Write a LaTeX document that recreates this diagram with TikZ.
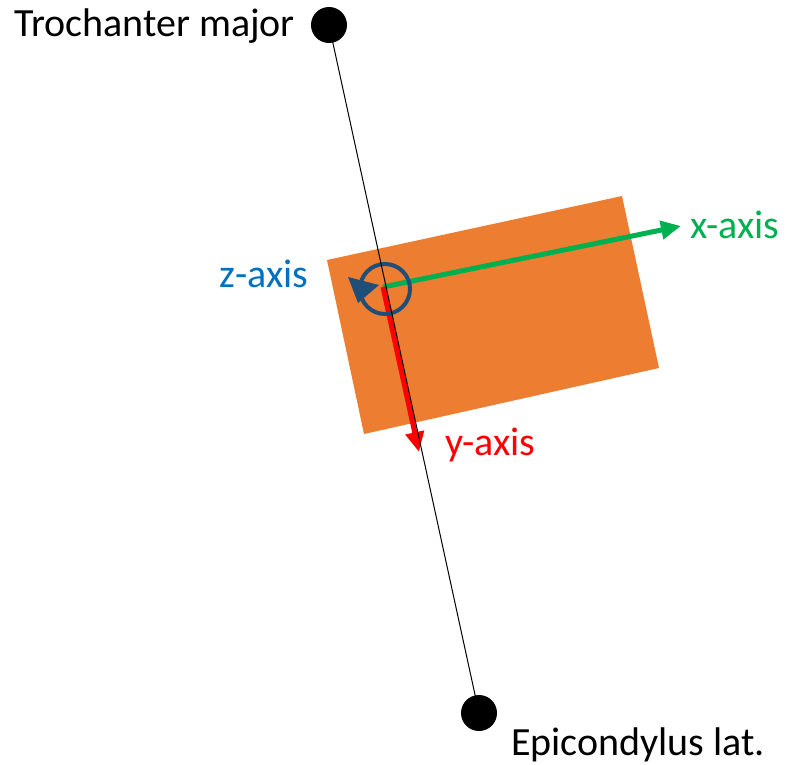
\documentclass[tikz,border=0pt]{standalone}
\usepackage{fontspec}
\setmainfont{Carlito}
\usetikzlibrary{arrows.meta}
\definecolor{orng}{HTML}{ED7D31}
\definecolor{grn}{HTML}{00B050}
\definecolor{dblue}{HTML}{1F4E79}
\definecolor{lblue}{HTML}{0070C0}
\begin{document}
\begin{tikzpicture}[x=1pt,y=-1pt,
  lbl/.style={anchor=base west,inner sep=0pt,font=\fontsize{40}{48}\selectfont},
  dot/.style={circle,fill=black,minimum size=36pt,inner sep=0pt},
  axisarrow/.style={line width=5pt,-{Triangle[length=20pt,width=18pt]}}]
\useasboundingbox (0,0) rectangle (787,765);
% orange plate
\fill[orng] (327,260) -- (622,196) -- (659,368) -- (364,434) -- cycle;
% origin
\coordinate (o) at (383,287);
\coordinate (xt) at (681,226);
\coordinate (yt) at (419,452);
\draw[grn,axisarrow] (o) -- (xt);
\draw[red,axisarrow] (o) -- (yt);
% z rotation
\draw[dblue,line width=4pt] (385,289) circle (25pt);
\fill[dblue] (348,277) -- (379,285) -- (358,303) -- cycle;
% bone axis
\node[dot] (tm) at (329,25) {};
\node[dot] (el) at (479,713) {};
\draw[black,line width=1pt] (tm.center) -- (el.center);
% labels
\node[lbl] (ltm) at (14,37) {Trochanter major};
\node[lbl] (lel) at (511,755) {Epicondylus lat.};
\node[lbl,text=lblue] (lz) at (219,287) {z-axis};
\node[lbl,text=grn] (lx) at (690,238) {x-axis};
\node[lbl,text=red] (ly) at (445,455) {y-axis};
\end{tikzpicture}
\end{document}
